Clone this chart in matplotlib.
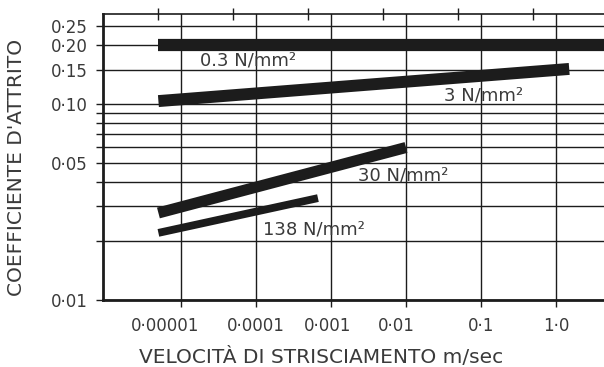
import numpy as np
import matplotlib.pyplot as plt
from matplotlib.transforms import ScaledTranslation

# band end points (velocity m/sec, friction coefficient)
x_03 = [5e-6, 6.0]
y_03 = [0.200, 0.200]
x_3 = [5e-6, 1.5]
y_3 = [0.1035, 0.151]
x_30 = [5e-6, 1e-2]
y_30 = [0.0278, 0.0600]
x_138 = [5e-6, 6.7e-4]
y_138 = [0.0220, 0.0331]

band_labels = ['0.3 N/mm²', '3 N/mm²', '30 N/mm²', '138 N/mm²']

xticks = [1e-5, 1e-4, 1e-3, 1e-2, 1e-1, 1.0]
xtick_labels = ['0·00001', '0·0001', '0·001', '0·01', '0·1', '1·0']
xtop_ticks = [5e-6, 5e-5, 5e-4, 5e-3, 5e-2, 5e-1]

ygrid = [0.01, 0.02, 0.03, 0.04, 0.05, 0.06, 0.07, 0.08, 0.09, 0.10, 0.15, 0.20, 0.25]
ylabelled = {0.01: '0·01', 0.05: '0·05', 0.10: '0·10', 0.15: '0·15', 0.20: '0·20', 0.25: '0·25'}

ink = '#1c1c1c'
txt = '#3a3a3a'
plt.rcParams['font.family'] = ['DejaVu Sans']

fig = plt.figure(figsize=(6.04, 3.67), dpi=100)
fig.patch.set_facecolor('white')
ax = fig.add_axes([0.1705, 0.1826, 0.8295, 0.7793])
ax.set_xscale('log')
ax.set_yscale('log')
ax.set_xlim(10 ** -6.04, 10 ** 0.64)
ax.set_ylim(0.01, 0.288)

# grid
ax.set_yticks(ygrid)
ax.set_yticklabels([ylabelled.get(v, '') for v in ygrid])
ax.yaxis.set_minor_locator(plt.NullLocator())
ax.set_xticks(xticks)
ax.set_xticklabels(xtick_labels)
ax.set_xticks(xtop_ticks, minor=True)
ax.grid(True, which='major', color=ink, linewidth=1.0)
ax.tick_params(axis='y', which='major', length=5, width=1.0, color=ink,
               labelsize=12, labelcolor=txt, pad=6)
ax.tick_params(axis='x', which='major', direction='out', length=5, width=1.0,
               color=ink, labelsize=12, labelcolor=txt, pad=7)
ax.tick_params(axis='x', which='minor', bottom=False, top=True, direction='inout',
               length=8, width=1.0, color=ink)

# nudge a few x labels like the print
offsets = [-16, 0, -3, -10, 0, 0]
for lab, dx in zip(ax.get_xticklabels(), offsets):
    lab.set_transform(lab.get_transform() + ScaledTranslation(dx / 100, 0, fig.dpi_scale_trans))

for s in ['left', 'bottom']:
    ax.spines[s].set_linewidth(2.0)
    ax.spines[s].set_color(ink)
ax.spines['top'].set_linewidth(1.2)
ax.spines['top'].set_color(ink)
ax.spines['right'].set_visible(False)

# bands
ax.plot(x_03, y_03, color=ink, linewidth=8.8, solid_capstyle='butt', zorder=3)
ax.plot(x_3, y_3, color=ink, linewidth=8.6, solid_capstyle='butt', zorder=3)
ax.plot(x_30, y_30, color=ink, linewidth=8.0, solid_capstyle='butt', zorder=3)
ax.plot(x_138, y_138, color=ink, linewidth=5.6, solid_capstyle='butt', zorder=3)

# band labels
ax.text(1.8e-5, 0.166, band_labels[0], fontsize=13, color=txt, va='center', ha='left')
ax.text(3.2e-2, 0.110, band_labels[1], fontsize=13, color=txt, va='center', ha='left')
ax.text(2.3e-3, 0.0434, band_labels[2], fontsize=13, color=txt, va='center', ha='left')
ax.text(1.24e-4, 0.0230, band_labels[3], fontsize=13, color=txt, va='center', ha='left')

fig.text(0.532, 0.027, 'VELOCITÀ DI STRISCIAMENTO m/sec', fontsize=14.5, color=txt,
         ha='center', va='center')
fig.text(0.028, 0.545, "COEFFICIENTE D'ATTRITO", fontsize=14.5, color=txt,
         ha='center', va='center', rotation=90)

fig.savefig('out.png', dpi=100)
